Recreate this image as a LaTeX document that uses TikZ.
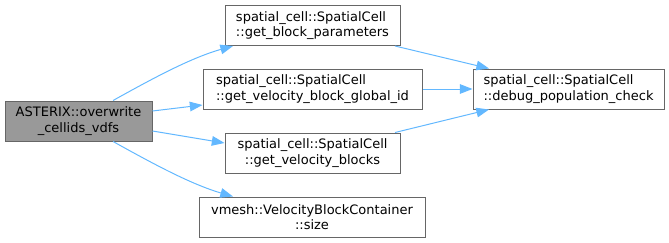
\documentclass[tikz,border=0pt]{standalone}
\usepackage{fontspec}
\setmainfont{DejaVu Sans}
\usetikzlibrary{arrows.meta}
\definecolor{edgeblue}{HTML}{63B8FF}
\definecolor{boxline}{HTML}{666666}
\definecolor{boxfill}{HTML}{999999}
\begin{document}
\begin{tikzpicture}[x=0.75pt,y=-0.75pt,
  fn/.style={draw=boxline,line width=0.75pt,fill=white,rectangle,inner sep=0pt,
    minimum height=30pt,font=\fontsize{9.75}{11.6}\selectfont},
  edge/.style={draw=edgeblue,line width=0.75pt,-{Triangle[length=9.5pt,width=7.2pt]}}]
\useasboundingbox (0,0) rectangle (669,243);
\node[fn,fill=boxfill,minimum width=110.25pt,align=center] (ast) at (78.5,121) {ASTERIX::overwrite\\\_cellids\_vdfs};
\node[fn,minimum width=131.25pt,align=left] (gbp) at (312.5,25.5) {spatial\_cell::SpatialCell\\::get\_block\_parameters};
\node[fn,minimum width=164.25pt,align=left] (gid) at (312.5,89) {spatial\_cell::SpatialCell\\::get\_velocity\_block\_global\_id};
\node[fn,minimum width=131.25pt,align=center] (gvb) at (312.5,153) {spatial\_cell::SpatialCell\\::get\_velocity\_blocks};
\node[fn,minimum width=169.5pt,align=center] (sz) at (312,217) {vmesh::VelocityBlockContainer\\::size};
\node[fn,minimum width=143.25pt,align=left] (dbg) at (568.5,89) {spatial\_cell::SpatialCell\\::debug\_population\_check};
\draw[edge] ([xshift=25.9pt]ast.north) .. controls (150,80) and (190,58) .. ([xshift=-59.6pt]gbp.south);
\draw[edge] ([yshift=7.5pt]ast.east) -- ([yshift=-12pt]gid.west);
\draw[edge] ([yshift=-7.5pt]ast.east) -- ([yshift=7.5pt]gvb.west);
\draw[edge] ([xshift=25.9pt]ast.south) .. controls (150,162) and (190,184) .. ([xshift=-59.25pt]sz.north);
\draw[edge] ([xshift=61.9pt]gbp.south) -- ([xshift=-59.6pt]dbg.north);
\draw[edge] (gid.east) -- (dbg.west);
\draw[edge] ([xshift=61.9pt]gvb.north) -- ([xshift=-59.6pt]dbg.south);
\end{tikzpicture}
\end{document}
